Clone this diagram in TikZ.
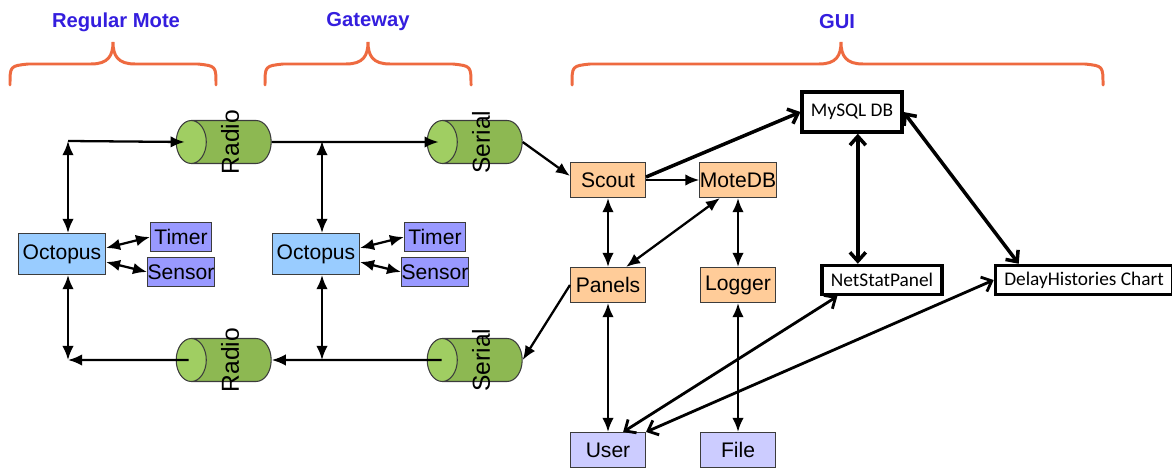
\documentclass[tikz,border=0pt]{standalone}
\usepackage{fontspec}
\setmainfont{Liberation Sans}
\newfontfamily\calibri{Carlito}
\usetikzlibrary{shapes.geometric,arrows.meta,calc,positioning}

\definecolor{hdrblue}{RGB}{52,30,222}
\definecolor{braceorange}{RGB}{238,106,64}
\definecolor{octoblue}{RGB}{153,204,255}
\definecolor{modpurple}{RGB}{153,153,255}
\definecolor{guipeach}{RGB}{255,204,153}
\definecolor{endlilac}{RGB}{204,204,255}
\definecolor{cylbody}{RGB}{141,184,82}
\definecolor{cylend}{RGB}{160,206,98}
\definecolor{edgegray}{RGB}{60,60,60}

\tikzset{
  hdr/.style={text=hdrblue, font=\bfseries\fontsize{11.5}{13}\selectfont},
  brace/.style={braceorange, line width=1.7pt, line cap=round},
  octo/.style={draw=edgegray, line width=0.6pt, fill=octoblue, minimum width=1.74cm, minimum height=0.82cm, inner sep=0pt, font=\fontsize{12}{14}\selectfont},
  modbox/.style={octo, fill=modpurple, minimum width=1.22cm, minimum height=0.57cm},
  radio/.style={cylinder, shape border rotate=180, aspect=0.7, draw=edgegray, line width=0.6pt, cylinder uses custom fill, cylinder body fill=cylbody, cylinder end fill=cylend, minimum height=1.9cm, inner xsep=0pt, inner ysep=0.43cm},
  cyltxt/.style={rotate=90, font=\fontsize{14}{16}\selectfont},
  guibox/.style={octo, fill=guipeach, minimum width=1.5cm, minimum height=0.7cm},
  endbox/.style={guibox, fill=endlilac},
  dbbox/.style={draw, line width=2pt, fill=white, inner xsep=5pt, inner ysep=0pt, minimum height=0.58cm, font=\calibri\fontsize{11}{13}\selectfont},
  arr/.style={line width=1.3pt, -{Latex[length=8pt,width=6.5pt]}},
  darr/.style={line width=1.3pt, {Latex[length=8pt,width=6.5pt]}-{Latex[length=8pt,width=6.5pt]}},
  thk/.style={line width=2pt, {Straight Barb[length=5pt,width=9pt]}-{Straight Barb[length=5pt,width=9pt]}},
}

\begin{document}
\begin{tikzpicture}[x=0.02cm, y=-0.02cm]
    \useasboundingbox (0,0) rectangle (1172,470);

    % Headers and braces
    \node[hdr] (hMote) at (116,22) {Regular Mote};
    \node[hdr] (hGate) at (368,22) {Gateway};
    \node[hdr] (hGui) at (837,22) {GUI};
    \foreach \xa/\xt/\xb in {10/113/216, 265/368/471, 572/841/1103}
        \draw[brace] (\xa,85) .. controls (\xa,66) .. (\xa+18,64) -- (\xt-22,64)
            .. controls (\xt-5,64) and (\xt,56) .. (\xt,42)
            .. controls (\xt,56) and (\xt+5,64) .. (\xt+22,64) -- (\xb-18,64)
            .. controls (\xb,66) .. (\xb,85);

    % Regular mote
    \node[octo] (octoM) at (62,254) {Octopus};
    \node[modbox] (timerM) at (181,237) {Timer};
    \node[modbox] (sensorM) at (181,272) {Sensor};
    \node[radio] (radioT) at (239,142) {};
    \node[cyltxt] (radioTtxt) at (230,142) {Radio};
    \node[radio] (radioB) at (239,360) {};
    \node[cyltxt] (radioBtxt) at (230,360) {Radio};
    \coordinate (mTop) at (68,141);
    \coordinate (mBot) at (68,360);

    % Gateway
    \node[octo] (octoG) at (316,254) {Octopus};
    \node[modbox] (timerG) at (435,237) {Timer};
    \node[modbox] (sensorG) at (435,272) {Sensor};
    \node[radio] (serialT) at (490,142) {};
    \node[cyltxt] (serialTtxt) at (481,142) {Serial};
    \node[radio] (serialB) at (490,360) {};
    \node[cyltxt] (serialBtxt) at (481,360) {Serial};
    \coordinate (gTop) at (322,141);
    \coordinate (gBot) at (322,360);

    % GUI
    \node[guibox] (scout) at (608,180) {Scout};
    \node[guibox] (motedb) at (738,180) {MoteDB};
    \node[guibox] (panels) at (608,285) {Panels};
    \node[guibox] (logger) at (738,285) {Logger};
    \node[endbox] (user) at (608,450) {User};
    \node[endbox] (file) at (738,450) {File};
    \node[dbbox, minimum height=0.8cm] (mysql) at (852,112) {MySQL DB};
    \node[dbbox] (netstat) at (882,280) {NetStatPanel};
    \node[dbbox] (delay) at (1084,280) {DelayHistories Chart};

    % Mote side links
    \draw[arr] (mTop) -- ($(radioT.west)+(9,0)$);
    \draw[darr] (mTop) -- (octoM.north -| mTop);
    \draw[darr] ($(octoM.east)+(0,-6)$) -- (timerM.west);
    \draw[darr] ($(octoM.east)+(0,8)$) -- (sensorM.west);
    \draw[darr] (octoM.south -| mBot) -- (mBot);
    \draw[arr] ($(radioB.west)+(13,0)$) -- (mBot);

    % Gateway links
    \draw[arr] (radioT.east) -- ($(serialT.west)+(12,0)$);
    \draw[darr] (gTop) -- (octoG.north -| gTop);
    \draw[darr] ($(octoG.east)+(0,-6)$) -- (timerG.west);
    \draw[darr] ($(octoG.east)+(0,8)$) -- (sensorG.west);
    \draw[darr] (octoG.south -| gBot) -- (gBot);
    \draw[arr] ($(serialB.west)+(15,0)$) -- (radioB.east);
    \draw[arr] (serialT.east) -- ($(scout.west)+(0,-4)$);
    \draw[arr] (panels.west) -- (serialB.east);

    % GUI links
    \draw[arr] (scout.east) -- (motedb.west);
    \draw[darr] (scout.south) -- (panels.north);
    \draw[darr] (motedb.-135) -- (panels.45);
    \draw[darr] (motedb.south) -- (logger.north);
    \draw[darr] (panels.south) -- (user.north);
    \draw[darr] (logger.south) -- (file.north);
    \draw[line width=2pt, -{Straight Barb[length=5pt,width=9pt]}] ($(scout.east)+(0,-3)$) -- (mysql.west);
    \draw[thk] (mysql.-75) -- (mysql.-75 |- netstat.north);
    \draw[thk] (mysql.east) -- ($(delay.north west)+(25,0)$);
    \draw[thk, line width=1.6pt] (user.50) -- (netstat.-160);
    \draw[thk, line width=1.6pt] (user.north east) -- (delay.west);
\end{tikzpicture}
\end{document}
